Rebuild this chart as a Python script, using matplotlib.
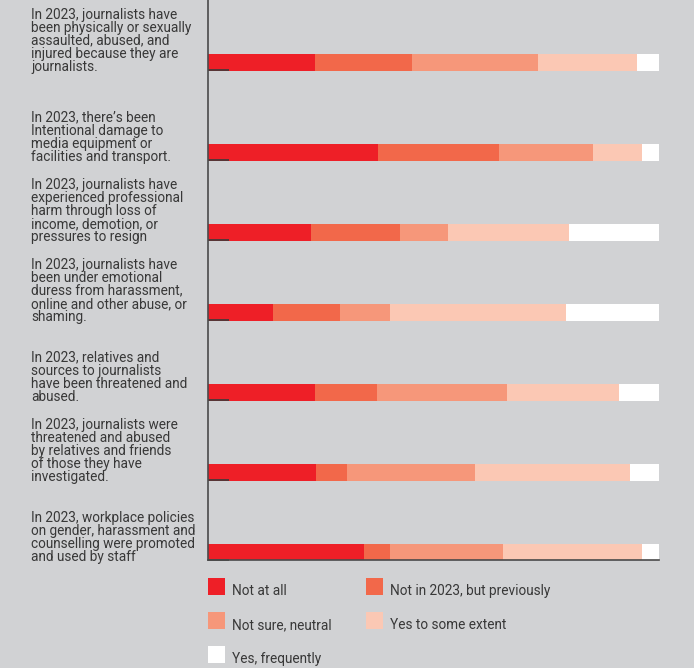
import matplotlib
matplotlib.use("Agg")
import matplotlib.pyplot as plt
from matplotlib.patches import Rectangle
from matplotlib.transforms import blended_transform_factory

# questions (top to bottom)
questions = [
    "In 2023, journalists have\nbeen physically or sexually\nassaulted, abused, and\ninjured because they are\njournalists.",
    "In 2023, there\u2019s been\nIntentional damage to\nmedia equipment or\nfacilities and transport.",
    "In 2023, journalists have\nexperienced professional\nharm through loss of\nincome, demotion, or\npressures to resign",
    "In 2023, journalists have\nbeen under emotional\nduress from harassment,\nonline and other abuse, or\nshaming.",
    "In 2023, relatives and\nsources to journalists\nhave been threatened and\nabused.",
    "In 2023, journalists were\nthreatened and abused\nby relatives and friends\nof those they have\ninvestigated.",
    "In 2023, workplace policies\non gender, harassment and\ncounselling were promoted\nand used by staff",
]

responses = ["Not at all", "Not in 2023, but previously", "Not sure, neutral",
             "Yes to some extent", "Yes, frequently"]

# percentages per answer
not_at_all = [23.8, 37.6, 22.9, 14.4, 23.8, 24.0, 34.7]
not_in_2023 = [21.5, 26.9, 19.6, 14.9, 13.6, 6.9, 5.6]
neutral = [27.8, 20.9, 10.7, 11.1, 28.9, 28.3, 25.1]
some_extent = [22.0, 10.9, 26.9, 38.9, 24.9, 34.4, 30.9]
frequently = [4.9, 3.7, 19.9, 20.7, 8.8, 6.4, 3.7]

colors = ["#ee1f27", "#f2684a", "#f6977a", "#fbc8b4", "#ffffff"]
bg = "#d1d2d4"
txt = "#383838"

W, H = 694, 668
fig = plt.figure(figsize=(W / 100, H / 100), dpi=100, facecolor=bg)
plt.rcParams['font.family'] = ['Roboto', 'DejaVu Sans']

# axes placed in pixel terms: x 208..659, y 0..560 from top
ax = fig.add_axes([208 / W, 1 - 560 / H, 451 / W, 560 / H])
ax.set_facecolor(bg)

# row layout (pixels from top of axes)
centers = [62.5] + [152.5 + 80 * i for i in range(6)]
bar_h = 17

series = [not_at_all, not_in_2023, neutral, some_extent, frequently]
left = [0.0] * len(questions)
for vals, col, name in zip(series, colors, responses):
    ax.barh(centers, vals, left=left, height=bar_h, color=col, label=name, linewidth=0)
    left = [l + v for l, v in zip(left, vals)]

ax.set_xlim(0, 100)
ax.set_ylim(560, 0)

for s in ["top", "right"]:
    ax.spines[s].set_visible(False)
for s in ["left", "bottom"]:
    ax.spines[s].set_color("#4a4a4a")
    ax.spines[s].set_linewidth(1.2)

ax.set_xticks([])
ax.set_yticks([])
ax.set_yticks([c + bar_h / 2 - 1 for c in centers], minor=True)
ax.tick_params(axis="y", which="minor", direction="in", length=15, width=1.2,
               color="#3a3a3a", labelleft=False)

# question labels, last line baseline at bar bottom
tr = blended_transform_factory(fig.transFigure, ax.transData)
for c, q in zip(centers, questions):
    ax.text(31 / W, c + bar_h / 2 + 3, q, transform=tr, ha="left", va="bottom",
            fontsize=9.8, color=txt, linespacing=0.92)

# legend drawn by hand in two columns
col_x = [208, 366]
row_y = [578, 612, 646]
for i, (name, col) in enumerate(zip(responses, colors)):
    x0 = col_x[i % 2]
    y0 = row_y[i // 2]
    fig.add_artist(Rectangle((x0 / W, 1 - (y0 + 17) / H), 17 / W, 17 / H,
                             transform=fig.transFigure, facecolor=col, linewidth=0))
    fig.text((x0 + 24) / W, 1 - (y0 + 17) / H, name, ha="left", va="baseline",
             fontsize=9.8, color=txt)

fig.savefig("out.png", dpi=100, facecolor=bg)
